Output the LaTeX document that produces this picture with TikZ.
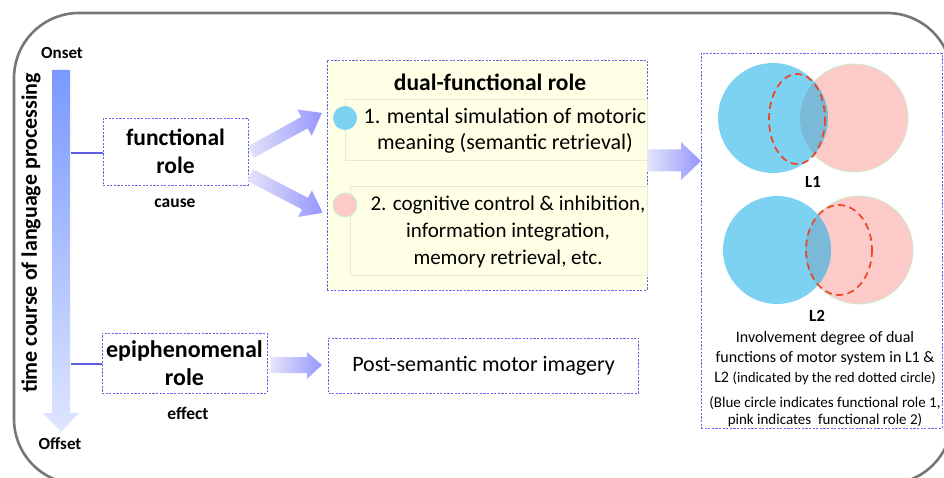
\documentclass[tikz,border=0pt]{standalone}
\usepackage{fontspec}
\setmainfont{Carlito}
\definecolor{framegray}{RGB}{118,118,118}
\definecolor{dashblue}{RGB}{100,100,235}
\definecolor{connblue}{RGB}{95,95,230}
\definecolor{boxyellow}{RGB}{255,255,230}
\definecolor{innerline}{RGB}{232,232,212}
\definecolor{vtop}{RGB}{122,152,255}
\definecolor{vbot}{RGB}{222,230,255}
\definecolor{arrL}{RGB}{228,228,250}
\definecolor{arrR}{RGB}{150,150,255}
\definecolor{vblue}{RGB}{125,210,242}
\definecolor{vpink}{RGB}{253,202,202}
\definecolor{vpinkline}{RGB}{200,238,200}
\definecolor{vovl}{RGB}{122,185,215}
\definecolor{reddash}{RGB}{235,70,30}
\tikzset{
  dbox/.style={draw=dashblue, line width=0.8pt, dash pattern=on 2.2pt off 1.4pt},
  conn/.style={draw=connblue, line width=2.5pt},
  fat/.style={left color=arrL, right color=arrR},
  redell/.style={draw=reddash, line width=1.7pt, dash pattern=on 7pt off 4.5pt},
  bigb/.style={font=\bfseries\fontsize{23.5}{28}\selectfont, align=center},
  smallb/.style={font=\bfseries\fontsize{17.5}{20}\selectfont},
  tinyb/.style={font=\bfseries\fontsize{17}{20}\selectfont},
  body/.style={font=\fontsize{22}{26.5}\selectfont, align=center},
}
\begin{document}
\begin{tikzpicture}[x=1pt,y=-1pt]
\useasboundingbox (0,0) rectangle (944,478);
\clip (0,0) rectangle (944,478);
% outer frame
\draw[framegray, line width=2.6pt, rounded corners=65pt] (14,13) rectangle (952,484);

% vertical time arrow
\shade[top color=vtop, bottom color=vbot] (52,70) -- (70,70) -- (70,413) -- (79,413) -- (61,432) -- (43,413) -- (52,413) -- cycle;
\node[tinyb] (onset) at (62,53) {Onset};
\node[tinyb] (offset) at (60,444) {Offset};
\node[font=\bfseries\fontsize{22}{24}\selectfont, rotate=90] (time) at (31,233) {time course of language processing};

% left boxes
\node[dbox, bigb, minimum width=145pt, minimum height=67pt, inner sep=1pt] (fr) at (175.5,151.5) {functional\\role};
\node[smallb] (cause) at (175,203) {cause};
\node[dbox, bigb, font=\bfseries\fontsize{24}{28}\selectfont, minimum width=165pt, minimum height=60pt, inner sep=0pt] (ep) at (184.5,363) {epiphenomenal\\role};
\node[smallb] (effect) at (188,413) {effect};

\coordinate (t1) at (71,153);
\coordinate (t2) at (71,364);
\draw[conn] (t1) -- (fr.west |- t1);
\draw[conn] (t2) -- (ep.west |- t2);

% dual-functional box
\node[dbox, fill=boxyellow, minimum width=320pt, minimum height=230pt] (dual) at (487,175) {};
\node[font=\bfseries\fontsize{23.5}{26}\selectfont] (dualt) at (490,82) {dual-functional role};
\draw[innerline, line width=0.8pt] (345,99) rectangle (647,160);
\draw[innerline, line width=0.8pt] (350,186) rectangle (647,275);
\node[circle, fill=vblue, minimum size=24pt, inner sep=0pt] (c1) at (345,118) {};
\node[circle, fill=vpink, draw=vpinkline, line width=0.8pt, minimum size=24pt, inner sep=0pt] (c2) at (345,205) {};
\node[body] (item1) at (505,131) {1. mental simulation of motoric\\meaning (semantic retrieval)};
\node[body, font=\fontsize{21}{27}\selectfont] (item2) at (508,232) {2. cognitive control \& inhibition,\\information integration,\\memory retrieval, etc.};

% post-semantic box
\node[dbox, body, minimum width=310pt, minimum height=55pt] (post) at (483.5,365.5) {Post-semantic motor imagery};

% fat arrows
\begin{scope}[shift={(251,152)}, rotate=28.8]
\shade[fat] (0,-6.5) -- (61,-6.5) -- (61,-15) -- (81,0) -- (61,15) -- (61,6.5) -- (0,6.5) -- cycle;
\end{scope}
\begin{scope}[shift={(250,175)}, rotate=-27.5]
\shade[fat] (0,-6.5) -- (62,-6.5) -- (62,-15) -- (82,0) -- (62,15) -- (62,6.5) -- (0,6.5) -- cycle;
\end{scope}
\shade[fat] (647,149.5) -- (681,149.5) -- (681,142) -- (701,161) -- (681,180) -- (681,171.5) -- (647,171.5) -- cycle;
\shade[fat] (271,357) -- (307,357) -- (307,352) -- (322,365) -- (307,379) -- (307,373) -- (271,373) -- cycle;

% right box
\node[dbox, minimum width=241pt, minimum height=375pt] (right) at (821.5,240.5) {};

% Venn L1
\fill[vpink] (854,118) circle (54);
\draw[vpinkline, line width=0.8pt] (854,118) circle (54);
\fill[vblue] (773,118) circle (55);
\begin{scope}
\clip (773,118) circle (55);
\fill[vovl] (854,118) circle (54);
\end{scope}
\draw[redell] (797,119) ellipse [x radius=28, y radius=45];
\node[tinyb] (l1) at (813,182) {L1};

% Venn L2
\fill[vpink] (859,250) circle (54);
\draw[vpinkline, line width=0.8pt] (859,250) circle (54);
\fill[vblue] (777,250) circle (54);
\begin{scope}
\clip (777,250) circle (54);
\fill[vovl] (859,250) circle (54);
\end{scope}
\draw[redell] (839,250) ellipse [x radius=33, y radius=45];
\node[tinyb] (l2) at (817,316) {L2};

\node[font=\fontsize{16}{20}\selectfont, align=center] (cap1) at (825,358) {Involvement degree of dual\\functions of motor system in L1 \&\\L2 {\fontsize{14.5}{20}\selectfont (indicated by the red dotted circle)}};
\node[font=\fontsize{15}{17}\selectfont, align=center] (cap2) at (825,412) {(Blue circle indicates functional role 1,\\pink indicates\ \ functional role 2)};
\end{tikzpicture}
\end{document}
